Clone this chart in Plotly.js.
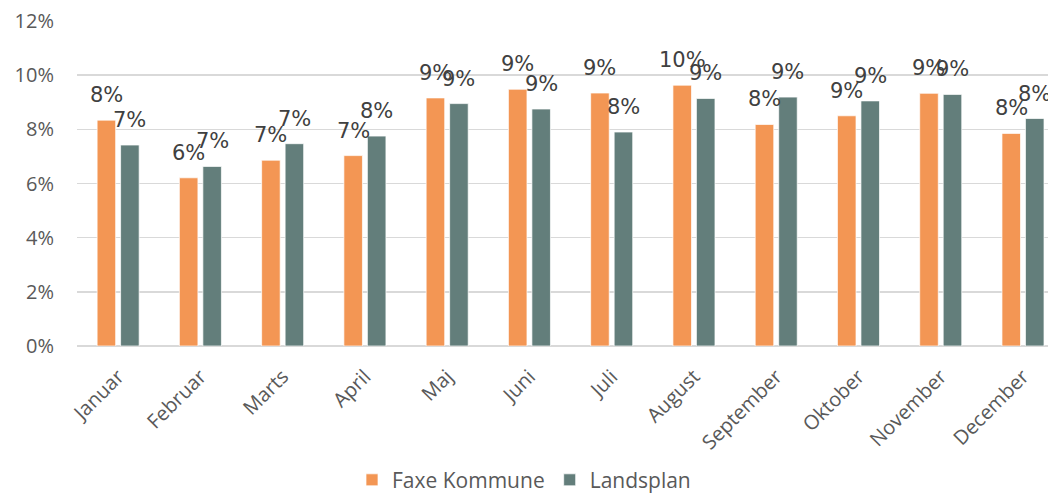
<!DOCTYPE html>
<html>
<head>
<meta charset="utf-8">
<script src="https://cdn.plot.ly/plotly-3.0.1.min.js"></script>
<style>html,body{margin:0;padding:0;background:#fff;}#chart{width:1048px;height:494px;}</style>
</head>
<body>
<div id="chart"></div>
<script>
const months = ["Januar","Februar","Marts","April","Maj","Juni","Juli","August","September","Oktober","November","December"];
const faxe = [8.34, 6.21, 6.86, 7.03, 9.16, 9.48, 9.34, 9.63, 8.18, 8.50, 9.33, 7.85];
const landsplan = [7.42, 6.63, 7.47, 7.75, 8.95, 8.75, 7.90, 9.14, 9.19, 9.05, 9.29, 8.40];
const seriesNames = ["Faxe Kommune", "Landsplan"];
const yTicks = [0, 2, 4, 6, 8, 10, 12];

const orange = "#F39654";
const grey = "#637E7B";

const traces = [
  {type: "bar", name: seriesNames[0], x: months, y: faxe, marker: {color: orange, line: {color: "rgba(255,255,255,0.7)", width: 1}}, hoverinfo: "none"},
  {type: "bar", name: seriesNames[1], x: months, y: landsplan, marker: {color: grey, line: {color: "rgba(255,255,255,0.7)", width: 1}}, hoverinfo: "none"}
];

const annotations = [];
const labelFont = {family: "DejaVu Sans", size: 21, color: "#404040"};
months.forEach((m, i) => {
  annotations.push({x: m, y: faxe[i], xref: "x", yref: "y", text: Math.round(faxe[i]) + "%", showarrow: false, xanchor: "center", yanchor: "bottom", xshift: -11.75, yshift: 11, font: labelFont});
  annotations.push({x: m, y: landsplan[i], xref: "x", yref: "y", text: Math.round(landsplan[i]) + "%", showarrow: false, xanchor: "center", yanchor: "bottom", xshift: 11.75, yshift: 11, font: labelFont});
});

const layout = {
  width: 1048, height: 494,
  margin: {l: 76.5, r: 0, t: 21, b: 148, pad: 0},
  paper_bgcolor: "#fff", plot_bgcolor: "#fff",
  barmode: "group", bargap: 0.429, bargroupgap: 0.21,
  showlegend: true,
  legend: {orientation: "h", xref: "container", yref: "container", x: 0.5, xanchor: "center", y: 0.028, yanchor: "middle", font: {family: "Open Sans", size: 21, color: "#595959"}, itemclick: false},
  xaxis: {
    type: "category", range: [-0.5, 11.304], tickangle: -45,
    tickfont: {family: "Open Sans", size: 20, color: "#595959"},
    showgrid: false, showline: false, ticks: "", zeroline: false, fixedrange: true,
    ticklabelstandoff: 14
  },
  yaxis: {
    range: [0, 12], tickvals: yTicks, ticktext: yTicks.map(v => v + "%"),
    tickfont: {family: "Open Sans", size: 20, color: "#595959"},
    showgrid: true, gridcolor: "#D9D9D9", gridwidth: 1.5, zeroline: true, zerolinecolor: "#D9D9D9", zerolinewidth: 1.5,
    showline: false, ticks: "", ticklabelstandoff: 22, fixedrange: true
  },
  annotations: annotations
};

Plotly.newPlot("chart", traces, layout, {displayModeBar: false, staticPlot: true});
</script>
</body>
</html>
